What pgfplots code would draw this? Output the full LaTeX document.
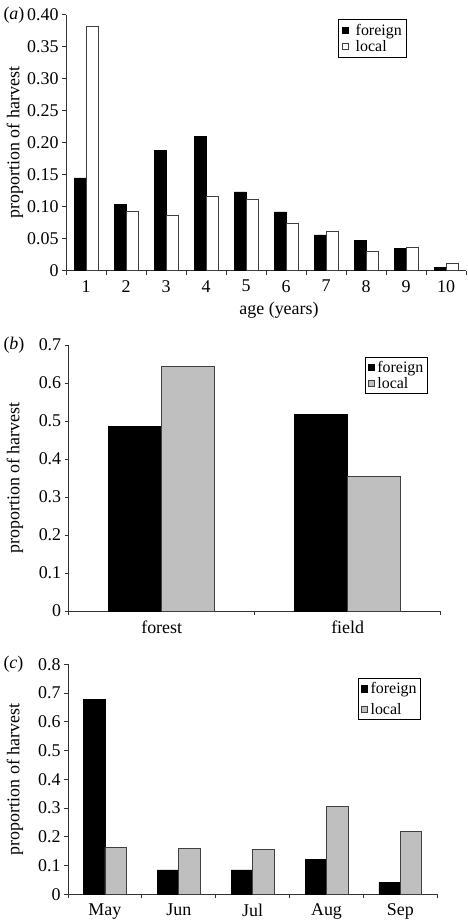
\documentclass[border=0pt]{standalone}
\usepackage{fontspec}
\setmainfont{Liberation Serif}
\usepackage{pgfplots}
\pgfplotsset{compat=1.18}
\definecolor{axgray}{gray}{0.2}
\definecolor{edge}{gray}{0.25}
\definecolor{lgray}{gray}{0.75}
\pgfplotsset{
  panel/.style={
    scale only axis,
    axis lines*=left,
    axis line style={axgray, line width=0.8bp},
    ybar=0pt,
    ymin=0,
    tick align=outside,
    major tick length=4bp,
    tick style={axgray, line width=0.8bp},
    x tick label as interval=true,
    /pgf/number format/assume math mode=true,
    tick label style={font=\fontsize{18}{20}\selectfont},
    xticklabel style={yshift=-2bp},
    legend style={font=\fontsize{16}{17}\selectfont, draw=black, line width=0.8bp,
      anchor=north west, legend cell align=left, inner sep=1.5bp, row sep=-0.5bp},
    legend image code/.code={\draw[#1, line width=0.6bp] (0bp,-2.8bp) rectangle (5.6bp,2.8bp);
       \path (-1bp,0bp) (11bp,0bp);},
  },
  smallgap/.style={
    legend image code/.code={\draw[##1, line width=0.6bp] (0bp,-3.2bp) rectangle (6.4bp,3.2bp);
       \path (-0.5bp,0bp) (7bp,0bp);},
  },
  foreign/.style={fill=black, draw=black, line width=0.6bp},
  local/.style={fill=#1, draw=edge, line width=0.8bp},
  ylab/.style={every axis y label/.style={at={(rel axis cs:0,0.5)}, xshift=#1, rotate=90,
      anchor=center, font=\fontsize{18}{20}\selectfont}},
}
\begin{document}
\begin{tikzpicture}
\useasboundingbox (0,0) rectangle (468bp,-922bp);
% (a)
\begin{axis}[panel,
  at={(66bp,-270.7bp)}, anchor=south west,
  width=400bp, height=256bp,
  xmin=0.5, xmax=10.5, ymax=0.40,
  bar width=12bp,
  xtick={0.5,1.5,...,10.5},
  xticklabels={1,2,3,4,5,6,7,8,9,10},
  ytick={0,0.05,0.10,0.15,0.20,0.25,0.30,0.35,0.40},
  yticklabels={0,0.05,0.10,0.15,0.20,0.25,0.30,0.35,0.40},
  ylab=-51bp,
  ylabel={proportion of harvest},
  xlabel={age (years)},
  every axis x label/.style={at={(rel axis cs:0.5,0)}, anchor=center, xshift=13bp, yshift=-40bp,
      font=\fontsize{18}{20}\selectfont},
  legend style={at={(0.68,0.983)}, inner sep=2.5bp},
]
\addplot[foreign] coordinates {(1,0.145) (2,0.103) (3,0.188) (4,0.210) (5,0.123) (6,0.092) (7,0.056) (8,0.047) (9,0.035) (10,0.005)};
\addplot[local=white] coordinates {(1,0.381) (2,0.093) (3,0.087) (4,0.116) (5,0.112) (6,0.074) (7,0.061) (8,0.030) (9,0.036) (10,0.012)};
\legend{foreign, local}
\end{axis}
\node[anchor=west, font=\fontsize{18}{20}\selectfont] at (0bp,-15bp) {(\textit{a})};
% (b)
\begin{axis}[panel, smallgap,
  at={(68.7bp,-611bp)}, anchor=south west,
  width=372bp, height=266bp,
  xmin=0.5, xmax=2.5, ymax=0.7,
  bar width=53bp,
  xtick={0.5,1.5,2.5},
  xticklabels={forest, field},
  ytick={0,0.1,...,0.7},
  yticklabels={0,0.1,0.2,0.3,0.4,0.5,0.6,0.7},
  ylab=-53.7bp,
  ylabel={proportion of harvest},
  legend style={at={(0.797,0.955)}},
]
\addplot[foreign] coordinates {(1,0.485) (2,0.518)};
\addplot[local=lgray] coordinates {(1,0.643) (2,0.355)};
\legend{foreign, local}
\end{axis}
\node[anchor=west, font=\fontsize{18}{20}\selectfont] at (0bp,-345bp) {(\textit{b})};
% (c)
\begin{axis}[panel, smallgap,
  at={(68bp,-894.3bp)}, anchor=south west,
  width=369.3bp, height=230bp,
  xmin=0.5, xmax=5.5, ymax=0.8,
  bar width=21.5bp,
  xtick={0.5,1.5,...,5.5},
  xticklabels={May,Jun,Jul,Aug,Sep},
  ytick={0,0.1,...,0.8},
  yticklabels={0,0.1,0.2,0.3,0.4,0.5,0.6,0.7,0.8},
  ylab=-53bp,
  ylabel={proportion of harvest},
  legend style={at={(0.785,0.94)}, row sep=4bp, inner sep=2bp},
]
\addplot[foreign] coordinates {(1,0.677) (2,0.085) (3,0.085) (4,0.121) (5,0.041)};
\addplot[local=lgray] coordinates {(1,0.162) (2,0.159) (3,0.155) (4,0.306) (5,0.218)};
\legend{foreign, local}
\end{axis}
\node[anchor=west, font=\fontsize{18}{20}\selectfont] at (0bp,-664bp) {(\textit{c})};
\end{tikzpicture}
\end{document}
